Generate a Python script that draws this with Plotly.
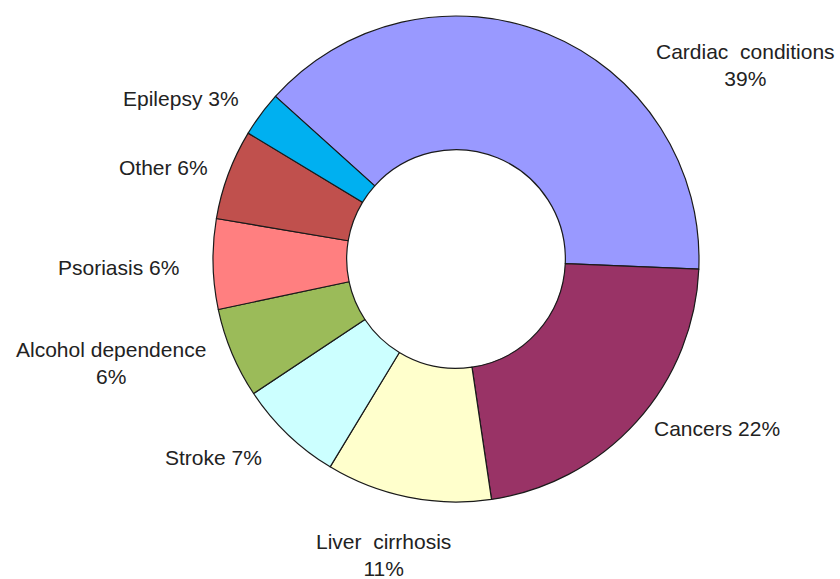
import plotly.graph_objects as go

# Share of cases by condition (percent)
categories = ["Cardiac conditions", "Cancers", "Liver cirrhosis", "Stroke",
              "Alcohol dependence", "Psoriasis", "Other", "Epilepsy"]
values = [39, 22, 11, 7, 6, 6, 6, 3]
slice_colors = ["#9999FF", "#993366", "#FFFFCC", "#CCFFFF",
                "#9BBB59", "#FF7F80", "#C0504D", "#00B0F0"]

# Label placement (pixel centre in the 840x579 canvas), whether the
# percentage goes on a second line, and whether word gaps are widened
W, H = 840, 579
label_pos = [(745, 65), (717, 428), (383, 555), (213, 457),
             (111, 363), (118, 268), (163, 168), (181, 99)]
label_wrap = [True, False, True, False, True, False, False, False]
label_wide_gap = [True, False, True, False, False, False, False, False]

# Donut geometry
cx, cy, r = 456, 259, 243

fig = go.Figure(go.Pie(
    labels=categories,
    values=values,
    sort=False,
    direction="clockwise",
    rotation=-48,
    hole=0.45,
    textinfo="none",
    hoverinfo="label+percent",
    marker=dict(colors=slice_colors, line=dict(color="#1a1a1a", width=1.2)),
    domain=dict(x=[(cx - r) / W, (cx + r) / W],
                y=[(H - cy - r) / H, (H - cy + r) / H]),
    showlegend=False,
))

annotations = []
for name, v, (px, py), wrap, wide in zip(categories, values, label_pos,
                                         label_wrap, label_wide_gap):
    shown = name.replace(" ", "\u00a0\u00a0") if wide else name
    text = f"{shown}<br>{v}%" if wrap else f"{shown} {v}%"
    annotations.append(dict(
        x=px / W, y=1 - py / H, xref="paper", yref="paper",
        xanchor="center", yanchor="middle", showarrow=False,
        text=text, align="center",
        font=dict(family="Liberation Sans, Arial, sans-serif", size=21,
                  color="#222222"),
    ))

fig.update_layout(
    width=W, height=H,
    margin=dict(l=0, r=0, t=0, b=0),
    paper_bgcolor="white",
    plot_bgcolor="white",
    annotations=annotations,
)

fig.write_html("out.html")
